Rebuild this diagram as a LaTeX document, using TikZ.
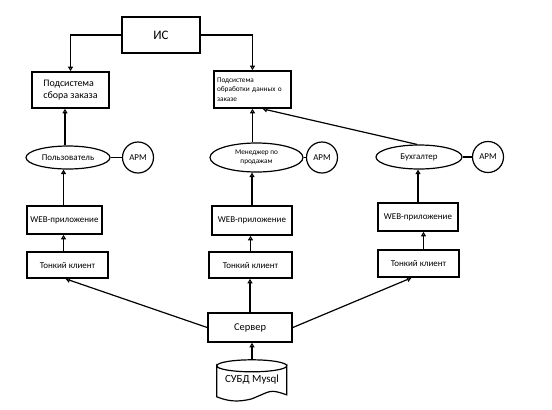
\documentclass[tikz,border=0pt]{standalone}
\usepackage{fontspec}
\setmainfont{Carlito}
\usetikzlibrary{arrows.meta,calc,shapes.geometric}
\begin{document}
\begin{tikzpicture}[x=1bp,y=-1bp,
  box/.style={draw,line width=1.6bp,minimum width=#1,inner sep=1bp,anchor=center},
  ell/.style={draw,ellipse,line width=1.2bp,inner sep=0pt,anchor=center},
  apm/.style={draw,circle,line width=1.2bp,minimum size=31bp,inner sep=0pt,font=\fontsize{9}{10}\selectfont},
  arr/.style={line width=1.2bp,-{Triangle[open,length=4.5bp,width=5bp]}},
  ln/.style={line width=1.2bp},
  t9/.style={font=\fontsize{9}{10}\selectfont}]
\useasboundingbox (0,0) rectangle (552,409);
\node[box=78bp,minimum height=36bp,font=\fontsize{13}{14}\selectfont] (is) at (161,35) {ИС};
\node[box=77bp,minimum height=36bp,align=left,font=\fontsize{10}{12}\selectfont] (sub1) at (70.5,90) {Подсистема\\сбора заказа};
\node[box=77bp,minimum height=37bp,align=left,text width=71bp,font=\fontsize{7.3}{9.5}\selectfont] (sub2) at (252.5,89.5) {Подсистема\\обработки данных о\\заказе};
\node[ell,minimum width=84bp,minimum height=23bp,t9] (ell1) at (68,157.5) {Пользователь};
\node[apm] (apm1) at (138,157.5) {АРМ};
\node[ell,minimum width=93bp,minimum height=29bp,align=center,font=\fontsize{7.3}{9.5}\selectfont] (ell2) at (256.5,157.5) {Менеджер по\\продажам};
\node[apm] (apm2) at (322,157.5) {АРМ};
\node[ell,minimum width=86bp,minimum height=24bp,t9] (ell3) at (419,157) {Бухгалтер};
\node[apm] (apm3) at (488,157) {АРМ};
\node[box=75bp,minimum height=28bp,t9] (web1) at (64.5,220) {WEB-приложение};
\node[box=80bp,minimum height=29bp,t9] (web2) at (252,220.5) {WEB-приложение};
\node[box=80bp,minimum height=28bp,t9] (web3) at (418,217) {WEB-приложение};
\node[box=81bp,minimum height=26bp,t9] (tk1) at (67.5,265) {Тонкий клиент};
\node[box=83bp,minimum height=26bp,t9] (tk2) at (250.5,265) {Тонкий клиент};
\node[box=81bp,minimum height=27bp,t9] (tk3) at (418.5,263.5) {Тонкий клиент};
\node[box=84bp,minimum height=29bp,font=\fontsize{10.5}{12}\selectfont] (srv) at (250,327.5) {Сервер};
\node[minimum width=70bp,minimum height=40bp,inner sep=0pt,font=\fontsize{11}{12}\selectfont,anchor=center] (db) at (252,380) {СУБД Mysql};
% database shape
\coordinate (dbtl) at ($(db.north west)+(0,6)$);
\coordinate (dbtop) at ($(db.north)$);
\draw[line width=1.2bp] (dbtl) arc[start angle=180,end angle=0,x radius=35,y radius=6]
  -- ++(0,29) .. controls +(-18,-6) and +(20,-8) .. ++(-35,4) .. controls +(-15,4) and +(10,4) .. ++(-35,-2) -- cycle;
\draw[line width=1.2bp] (dbtl) arc[start angle=180,end angle=360,x radius=35,y radius=6];
% connectors
\draw[arr] (is.west) -| (sub1.north);
\draw[arr] (is.east) -| (sub2.north);
\draw[arr] ($(ell1.north)+(-3,0)$) -- ($(ell1.north |- sub1.south)+(-3,0)$);
\draw[arr] ($(ell2.north)+(-4,0)$) -- ($(ell2.north |- sub2.south)+(-4,0)$);
\draw[arr] ($(ell3.north)+(-2,0)$) -- ($(sub2.south)+(10,0)$);
\draw[ln] (ell1) -- (apm1);
\draw[ln] (ell2) -- (apm2);
\draw[ln] (ell3) -- (apm3);
\draw[arr] ($(web1.north)+(-1,0)$) -- ($(web1.north |- ell1.south)+(-1,0)$);
\draw[arr] (web2.north) -- (web2.north |- ell2.south);
\draw[arr] (web3.north) -- (web3.north |- ell3.south);
\draw[arr] ($(tk1.north)+(-4,0)$) -- ($(tk1.north |- web1.south)+(-4,0)$);
\draw[arr] (tk2.north) -- (tk2.north |- web2.south);
\draw[arr] ($(tk3.north)+(5,0)$) -- ($(tk3.north |- web3.south)+(5,0)$);
\draw[arr] (srv.west) -- ($(tk1.south)+(-2,0)$);
\draw[arr] (srv.north) -- (srv.north |- tk2.south);
\draw[arr] (srv.east) -- ($(tk3.south)+(-7,0)$);
\draw[arr] (dbtop) -- (dbtop |- srv.south);
\end{tikzpicture}
\end{document}
